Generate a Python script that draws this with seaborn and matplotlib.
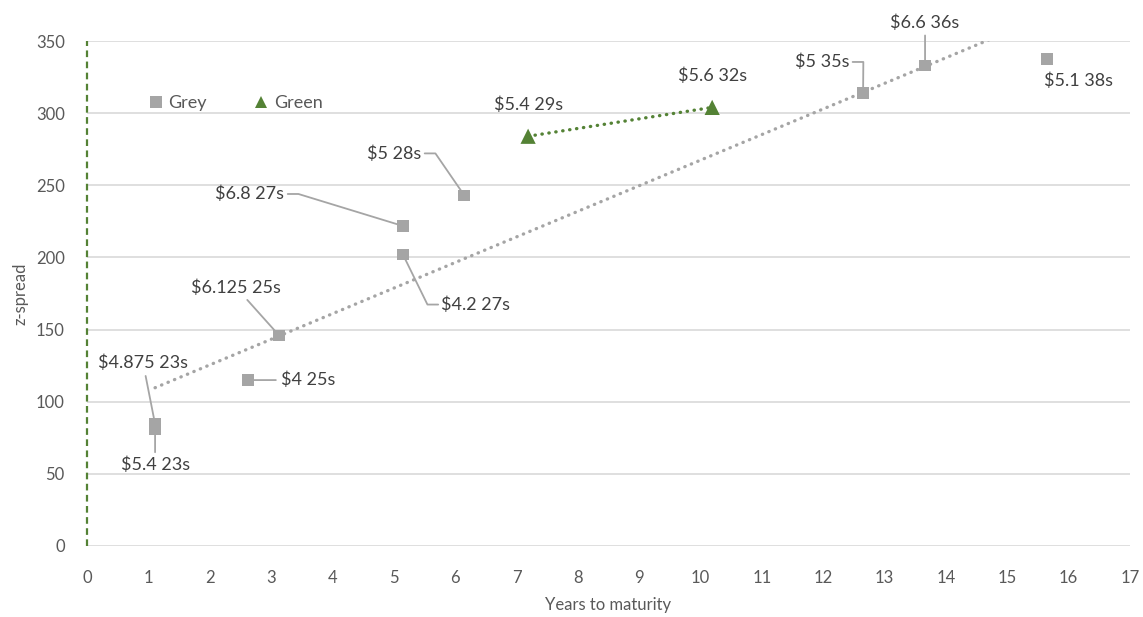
import numpy as np
import pandas as pd
import seaborn as sns
import matplotlib.pyplot as plt

# bonds
grey_years = [1.11, 1.11, 3.13, 2.62, 5.15, 5.15, 6.15, 12.65, 13.66, 15.65]
grey_spread = [84.5, 81, 146, 115, 202, 221.8, 243, 314, 333, 337.5]
grey_labels = ["$4.875 23s", "$5.4 23s", "$6.125 25s", "$4 25s", "$4.2 27s",
               "$6.8 27s", "$5 28s", "$5 35s", "$6.6 36s", "$5.1 38s"]

green_years = [7.19, 10.19]
green_spread = [284, 304]
green_labels = ["$5.4 29s", "$5.6 32s"]

sns.set_style("white")
plt.rcParams['font.family'] = ['Lato', 'DejaVu Sans']

grey_c = "#a5a5a5"
green_c = "#548235"
text_c = "#404040"

df = pd.DataFrame({
    "years": grey_years + green_years,
    "spread": grey_spread + green_spread,
    "group": ["Grey"] * len(grey_years) + ["Green"] * len(green_years),
    "label": grey_labels + green_labels,
})

fig = plt.figure(figsize=(11.43, 6.17), dpi=100)
ax = fig.add_axes([0.0761, 0.1151, 0.9125, 0.8184])

# trendlines
for xs, ys, c in [(grey_years, grey_spread, grey_c), (green_years, green_spread, green_c)]:
    m, b = np.polyfit(xs, ys, 1)
    tx = np.array([min(xs), max(xs)])
    sns.lineplot(x=tx, y=m * tx + b, ax=ax, color=c, lw=2.4,
                 linestyle=(0, (0.1, 2.0)), dash_capstyle="round", zorder=2)

sns.scatterplot(data=df, x="years", y="spread", hue="group", style="group",
                size="group", sizes={"Grey": 70, "Green": 120},
                palette={"Grey": grey_c, "Green": green_c},
                markers={"Grey": "s", "Green": "^"},
                hue_order=["Grey", "Green"], style_order=["Grey", "Green"],
                size_order=["Grey", "Green"],
                linewidth=0, ax=ax, zorder=3)

# green dashed line on the y axis
ax.axvline(0, color=green_c, lw=1.6, linestyle=(0, (3, 2)), zorder=4, clip_on=False)

# label offsets in pixels, elbow (relpos x, arm angle)
offsets = {
    "$4.875 23s": ((-12, 61), None),
    "$5.4 23s": ((0, -36), None),
    "$6.125 25s": ((-43, 48), None),
    "$4 25s": ((60, 0), None),
    "$4.2 27s": ((73, -50), (0.0, 180)),
    "$6.8 27s": ((-153, 32), (1.0, 0)),
    "$5 28s": ((-70, 42), (1.0, 0)),
    "$5 35s": ((-41, 31), (1.0, 0)),
    "$6.6 36s": ((0, 43), None),
    "$5.1 38s": ((31, -22), "none"),
    "$5.4 29s": ((0, 32), "none"),
    "$5.6 32s": ((0, 32), "none"),
}
for _, r in df.iterrows():
    off, elbow = offsets[r["label"]]
    kw = dict(xy=(r["years"], r["spread"]), xytext=off, textcoords="offset pixels",
              ha="center", va="center", fontsize=13, color=text_c, zorder=5)
    if elbow is None:
        kw["arrowprops"] = dict(arrowstyle="-", color=grey_c, lw=1.3,
                                shrinkA=1, shrinkB=4)
    elif elbow != "none":
        relx, ang = elbow
        kw["arrowprops"] = dict(arrowstyle="-", color=grey_c, lw=1.3,
                                relpos=(relx, 0.5), shrinkA=0, shrinkB=4,
                                connectionstyle=f"arc,angleA={ang},angleB=0,armA=14,armB=0,rad=0")
    ax.annotate(r["label"], **kw)

ax.set_xlim(0, 17)
ax.set_ylim(0, 350)
ax.set_xticks(range(0, 18))
ax.set_yticks(range(0, 351, 50))
ax.yaxis.grid(True, color="#d9d9d9", lw=1.2)
ax.set_axisbelow(True)
for s in ax.spines.values():
    s.set_visible(False)
ax.tick_params(length=0, labelsize=12, labelcolor="#595959")
ax.tick_params(axis="x", pad=17)
ax.tick_params(axis="y", pad=16)
ax.set_xlabel("Years to maturity", fontsize=12, color="#595959", labelpad=8)
ax.set_ylabel("z-spread", fontsize=12, color="#595959")
ax.yaxis.set_label_coords(-0.056, 0.5)

sns.move_legend(ax, "center left", bbox_to_anchor=(0.033, 0.877), ncol=2,
                frameon=False, title=None, fontsize=13, handletextpad=-0.3,
                columnspacing=2.0)
leg = ax.get_legend()
for t in leg.get_texts():
    t.set_color("#595959")
for h in leg.legend_handles:
    if hasattr(h, "set_markersize"):
        h.set_markersize(8)
    elif hasattr(h, "set_sizes"):
        h.set_sizes([64])

plt.savefig("out.png", dpi=100)
